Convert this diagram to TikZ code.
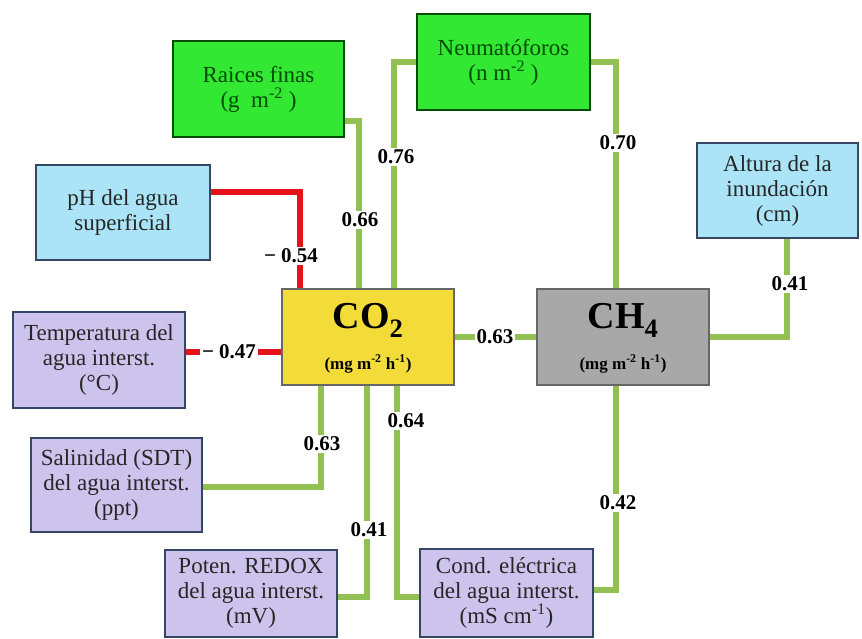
\documentclass[tikz,border=0pt]{standalone}
\usepackage{fontspec}
\setmainfont{Liberation Serif}
\usetikzlibrary{calc}
\definecolor{gline}{RGB}{146,192,82}
\definecolor{rline}{RGB}{230,20,26}
\definecolor{gfill}{RGB}{50,232,50}
\definecolor{bfill}{RGB}{170,228,246}
\definecolor{yfill}{RGB}{243,220,58}
\definecolor{grfill}{RGB}{168,168,168}
\definecolor{lfill}{RGB}{204,196,236}
\definecolor{bdark}{RGB}{55,70,100}
\begin{document}
\begin{tikzpicture}[x=1pt,y=-1pt,
  box/.style={draw=bdark,line width=1.5pt,align=center,inner sep=1pt,
    font=\fontsize{23}{25}\selectfont,text=black!85},
  gbox/.style={box,fill=gfill,draw=black!70!green,text=black!70!green},
  bbox/.style={box,fill=bfill},
  lbox/.style={box,fill=lfill},
  gl/.style={draw=gline,line width=6pt},
  rl/.style={draw=rline,line width=6pt},
  lab/.style={fill=white,inner sep=2pt,font=\fontsize{21}{22}\selectfont\bfseries}]
\useasboundingbox (0,0) rectangle (862,639);
% boxes
\node[gbox,minimum width=171pt,minimum height=96pt] (raices) at (258.5,89) {Raices finas\\(g\ \ m\textsuperscript{-2} )};
\node[gbox,minimum width=173pt,minimum height=96pt] (neuma) at (503.5,62) {Neumatóforos\\(n m\textsuperscript{-2} )};
\node[bbox,minimum width=174pt,minimum height=95pt] (ph) at (123,212.5) {pH del agua\\superficial};
\node[bbox,minimum width=161pt,minimum height=95pt] (alt) at (777.5,190.5) {Altura de la\\inundación\\(cm)};
\node[box,fill=yfill,draw=black!60,minimum width=172pt,minimum height=96pt] (co2) at (368,337) {};
\node[font=\fontsize{38}{40}\selectfont\bfseries] (co2t) at (368,320) {CO\textsubscript{2}};
\node[font=\fontsize{17}{18}\selectfont\bfseries] (co2u) at (368,364) {(mg m\textsuperscript{-2} h\textsuperscript{-1})};
\node[box,fill=grfill,draw=black!60,minimum width=172pt,minimum height=96pt] (ch4) at (623,337) {};
\node[font=\fontsize{38}{40}\selectfont\bfseries] (ch4t) at (623,320) {CH\textsubscript{4}};
\node[font=\fontsize{17}{18}\selectfont\bfseries] (ch4u) at (623,364) {(mg m\textsuperscript{-2} h\textsuperscript{-1})};
\node[lbox,minimum width=172pt,minimum height=96pt] (temp) at (99,360) {Temperatura del\\agua interst.\\(°C)};
\node[lbox,minimum width=171pt,minimum height=94pt] (sal) at (116.5,485) {Salinidad (SDT)\\del agua interst.\\(ppt)};
\node[lbox,minimum width=172pt,minimum height=87pt] (redox) at (251,593.5) {Poten. REDOX\\del agua interst.\\(mV)};
\node[lbox,minimum width=173pt,minimum height=88pt] (cond) at (506.5,593) {Cond. eléctrica\\del agua interst.\\(mS cm\textsuperscript{-1})};
% connectors
\draw[gl] ([yshift=17pt]raices.south east) -| ([xshift=78pt]co2.north west);
\draw[gl] (neuma.west) -| ([xshift=113pt]co2.north west);
\draw[gl] (neuma.east) -| ([xshift=80pt]ch4.north west);
\draw[rl] ([yshift=20pt]ph.east) -| ([xshift=19pt]co2.north west);
\draw[gl] ([xshift=91pt]alt.south west) |- (ch4.east);
\draw[gl] (co2.east) -- (ch4.west);
\draw[rl] ([yshift=8pt]temp.east) -- ([yshift=8pt]temp.east -| co2.west);
\draw[gl] ([yshift=-2pt]sal.east) -| ([xshift=40pt]co2.south west);
\draw[gl] ([yshift=-3pt]redox.east) -| ([xshift=86pt]co2.south west);
\draw[gl] ([yshift=-4pt]cond.west) -| ([xshift=116pt]co2.south west);
\draw[gl] ([xshift=80pt]ch4.south west) |- ([yshift=3pt]cond.east);
% labels
\node[lab] (l1) at (360,220) {0.66};
\node[lab] (l2) at (396,157) {0.76};
\node[lab] (l3) at (618,143) {0.70};
\node[lab] (l4) at (291,256) {− 0.54};
\node[lab] (l5) at (790,284) {0.41};
\node[lab] (l6) at (495,337) {0.63};
\node[lab] (l7) at (229,352) {− 0.47};
\node[lab] (l8) at (322,444) {0.63};
\node[lab] (l9) at (369,530) {0.41};
\node[lab] (l10) at (406,421) {0.64};
\node[lab] (l11) at (618,503) {0.42};
\end{tikzpicture}
\end{document}
